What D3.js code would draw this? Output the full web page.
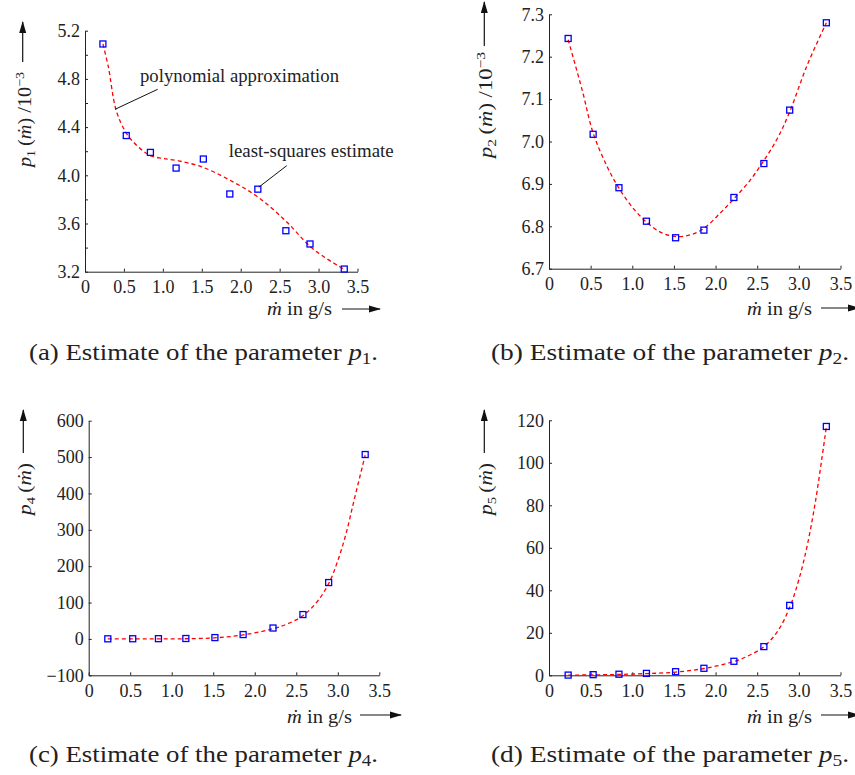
<!DOCTYPE html>
<html>
<head>
<meta charset="utf-8">
<script src="https://cdn.jsdelivr.net/npm/d3@7"></script>
<style>
  body { margin: 0; background: #fff; }
  svg text { font-family: "Liberation Serif", serif; fill: #222; }
</style>
</head>
<body>
<svg id="chart" width="855" height="775"></svg>
<script>
// mass flow rates of the measurements (g/s)
var mdot = [0.23, 0.53, 0.84, 1.17, 1.52, 1.86, 2.22, 2.58, 2.89, 3.33];

// least-squares estimates (blue squares)
var p1Est = [5.09, 4.33, 4.19, 4.06, 4.135, 3.845, 3.885, 3.54, 3.43, 3.222];
var p2Est = [7.243, 7.017, 6.891, 6.812, 6.773, 6.791, 6.868, 6.948, 7.074, 7.280];
var p4Est = [0.3, 0.5, 0.7, 1.2, 3.7, 12, 30, 67, 155, 507];
var p5Est = [0.1, 0.3, 0.5, 0.9, 1.7, 3.3, 6.6, 13.5, 32.9, 117.1];

// polynomial approximation (red dashed)
var p1FitX = [0.23, 0.3, 0.4, 0.53, 0.63, 0.75, 0.85, 1.0, 1.2, 1.5, 1.86, 2.22, 2.58, 2.89, 3.1, 3.25, 3.33];
var p1Fit  = [5.09, 4.90, 4.54, 4.35, 4.27, 4.20, 4.16, 4.14, 4.12, 4.07, 3.96, 3.82, 3.62, 3.41, 3.31, 3.25, 3.22];
var p2FitX = [0.23, 0.4, 0.53, 0.7, 0.84, 1.0, 1.17, 1.35, 1.52, 1.7, 1.86, 2.05, 2.22, 2.4, 2.58, 2.75, 2.89, 3.1, 3.33];
var p2Fit  = [7.24, 7.12, 7.02, 6.94, 6.89, 6.845, 6.81, 6.785, 6.776, 6.78, 6.795, 6.83, 6.865, 6.905, 6.955, 7.01, 7.07, 7.18, 7.28];
var expFitX = [0.23, 0.53, 0.84, 1.17, 1.52, 1.86, 2.22, 2.4, 2.58, 2.75, 2.89, 3.0, 3.1, 3.2, 3.33];
var p4Fit  = [0, 0, 0, 0.5, 3, 11, 28, 42, 64, 102, 152, 215, 290, 385, 505];
var p5Fit  = [0.05, 0.2, 0.4, 0.8, 1.5, 3.2, 6.5, 9.3, 13.5, 21, 32, 45, 61, 82, 117];

// tick values
var xTicks = [0, 0.5, 1.0, 1.5, 2.0, 2.5, 3.0, 3.5];
var p1Ticks = [3.2, 3.4, 3.6, 3.8, 4.0, 4.2, 4.4, 4.6, 4.8, 5.0, 5.2];
var p2Ticks = [6.7, 6.8, 6.9, 7.0, 7.1, 7.2, 7.3];
var p4Ticks = [-100, 0, 100, 200, 300, 400, 500, 600];
var p5Ticks = [0, 20, 40, 60, 80, 100, 120];

var svg = d3.select("#chart");
var FS = 18;

// arrow head for the axis label arrows
svg.append("defs").append("marker")
    .attr("id", "arr").attr("markerUnits", "userSpaceOnUse")
    .attr("markerWidth", 12).attr("markerHeight", 8)
    .attr("refX", 11).attr("refY", 4).attr("orient", "auto")
  .append("path").attr("d", "M0,0.5L12,4L0,7.5Z").attr("fill", "#111");

function fmtX(d) { return d === 0 ? "0" : d3.format(".1f")(d); }

function arrow(x1, y1, x2, y2) {
  svg.append("line").attr("x1", x1).attr("y1", y1).attr("x2", x2).attr("y2", y2)
     .attr("stroke", "#111").attr("stroke-width", 1.2).attr("marker-end", "url(#arr)");
}

function panel(c) {
  var g = svg.append("g");
  var x = d3.scaleLinear().domain([0, 3.5]).range([c.left, c.right]);
  var y = d3.scaleLinear().domain(c.yDomain).range([c.bottom, c.top]);

  var xa = g.append("g").attr("transform", "translate(0," + c.bottom + ")")
      .call(d3.axisBottom(x).tickValues(xTicks).tickFormat(fmtX)
              .tickSizeInner(-3).tickSizeOuter(0).tickPadding(9));
  var ya = g.append("g").attr("transform", "translate(" + c.left + ",0)")
      .call(d3.axisLeft(y).tickValues(c.yTicks).tickFormat(c.yFormat)
              .tickSizeInner(-3).tickSizeOuter(0).tickPadding(5));
  [xa, ya].forEach(function(a) {
    a.attr("font-family", null).attr("font-size", FS);
    a.selectAll("path, line").attr("stroke", "#222");
  });

  // polynomial approximation
  var line = d3.line()
      .x(function(d) { return x(d[0]); })
      .y(function(d) { return y(d[1]); })
      .curve(d3.curveCatmullRom.alpha(0.5));
  g.append("path").datum(d3.zip(c.fitX, c.fit))
      .attr("d", line).attr("fill", "none")
      .attr("stroke", "#ff0000").attr("stroke-width", 1.3)
      .attr("stroke-dasharray", "4,3");

  // least-squares estimates
  g.selectAll("rect.est").data(d3.zip(mdot, c.est)).enter()
    .append("rect").attr("class", "est")
      .attr("x", function(d) { return x(d[0]) - 3; })
      .attr("y", function(d) { return y(d[1]) - 3; })
      .attr("width", 6).attr("height", 6)
      .attr("fill", "none").attr("stroke", "#0000ff").attr("stroke-width", 1.3);

  // y label, rotated, with the arrow above it
  var yl = svg.append("text").attr("font-size", 19)
      .attr("textLength", c.ylLen).attr("lengthAdjust", "spacingAndGlyphs")
      .attr("transform", "translate(" + c.yl[0] + "," + c.yl[1] + ") rotate(-90)");
  yl.append("tspan").attr("font-style", "italic").text("p");
  yl.append("tspan").attr("font-size", 13).attr("dy", 4).text(c.sub);
  yl.append("tspan").attr("dy", -4).text("\u2009(");
  yl.append("tspan").attr("font-style", "italic").text("\u1E41");
  yl.append("tspan").text(")");
  if (c.scaled) {
    yl.append("tspan").text(" /10");
    yl.append("tspan").attr("font-size", 13).attr("dy", -7).text("\u22123");
  }
  arrow(c.ya[0], c.ya[1], c.ya[0], c.ya[2]);

  // x label with arrow
  var xl = svg.append("text").attr("font-size", 19).attr("text-anchor", "end")
      .attr("textLength", 65).attr("lengthAdjust", "spacingAndGlyphs")
      .attr("x", c.xl[0]).attr("y", c.xl[1]);
  xl.append("tspan").attr("font-style", "italic").text("\u1E41");
  xl.append("tspan").text(" in g/s");
  arrow(c.xa[0], c.xa[2], c.xa[1], c.xa[2]);

  // caption
  var cap = svg.append("text").attr("font-size", 24)
      .attr("textLength", c.capLen).attr("lengthAdjust", "spacingAndGlyphs")
      .attr("x", c.cap[0]).attr("y", c.cap[1]);
  cap.append("tspan").text("(" + c.letter + ") Estimate of the parameter ");
  cap.append("tspan").attr("font-style", "italic").text("p");
  cap.append("tspan").attr("font-size", 17).attr("dy", 4).text(c.sub);
  cap.append("tspan").attr("dy", -4).text(".");

  return { x: x, y: y };
}

var a = panel({
  left: 85, right: 357.5, top: 30.7, bottom: 271.7,
  yDomain: [3.2, 5.2], yTicks: p1Ticks,
  yFormat: function(d) { return Math.round(d * 10) % 4 === 0 ? d3.format(".1f")(d) : ""; },
  est: p1Est, fitX: p1FitX, fit: p1Fit, sub: "1", scaled: true,
  yl: [31, 167], ylLen: 95, ya: [22.7, 62, 22], xl: [332, 315], xa: [342, 380, 309],
  cap: [29, 360], capLen: 349, letter: "a"
});

panel({
  left: 549, right: 840.5, top: 14.3, bottom: 268.7,
  yDomain: [6.7, 7.3], yTicks: p2Ticks, yFormat: d3.format(".1f"),
  est: p2Est, fitX: p2FitX, fit: p2Fit, sub: "2", scaled: true,
  yl: [492, 158], ylLen: 106, ya: [484.3, 46, 2], xl: [812, 315], xa: [821, 859, 308],
  cap: [491, 360], capLen: 358, letter: "b"
});

panel({
  left: 88.7, right: 379.3, top: 420.7, bottom: 675.3,
  yDomain: [-100, 600], yTicks: p4Ticks, yFormat: d3.format("d"),
  est: p4Est, fitX: expFitX, fit: p4Fit, sub: "4", scaled: false,
  yl: [31, 515], ylLen: 52, ya: [23.3, 453, 410], xl: [352, 723], xa: [360, 401, 715],
  cap: [29, 762], capLen: 349, letter: "c"
});

panel({
  left: 549, right: 840.5, top: 420.3, bottom: 675.3,
  yDomain: [0, 120], yTicks: p5Ticks, yFormat: d3.format("d"),
  est: p5Est, fitX: expFitX, fit: p5Fit, sub: "5", scaled: false,
  yl: [492, 515], ylLen: 52, ya: [484.3, 453, 410], xl: [812, 723], xa: [821, 859, 715],
  cap: [491, 762], capLen: 358, letter: "d"
});

// annotations in panel (a)
svg.append("text").attr("font-size", FS).attr("textLength", 199).attr("lengthAdjust", "spacingAndGlyphs")
    .attr("x", 140).attr("y", 82).text("polynomial approximation");
svg.append("line").attr("x1", 157.7).attr("y1", 89.3).attr("x2", 115).attr("y2", 109.3)
    .attr("stroke", "#111").attr("stroke-width", 1);
svg.append("text").attr("font-size", FS).attr("textLength", 165).attr("lengthAdjust", "spacingAndGlyphs")
    .attr("x", 228.7).attr("y", 157).text("least-squares estimate");
svg.append("line").attr("x1", 286.7).attr("y1", 165.7).attr("x2", a.x(2.22) + 1).attr("y2", a.y(3.885) - 2)
    .attr("stroke", "#111").attr("stroke-width", 1);
</script>
</body>
</html>
